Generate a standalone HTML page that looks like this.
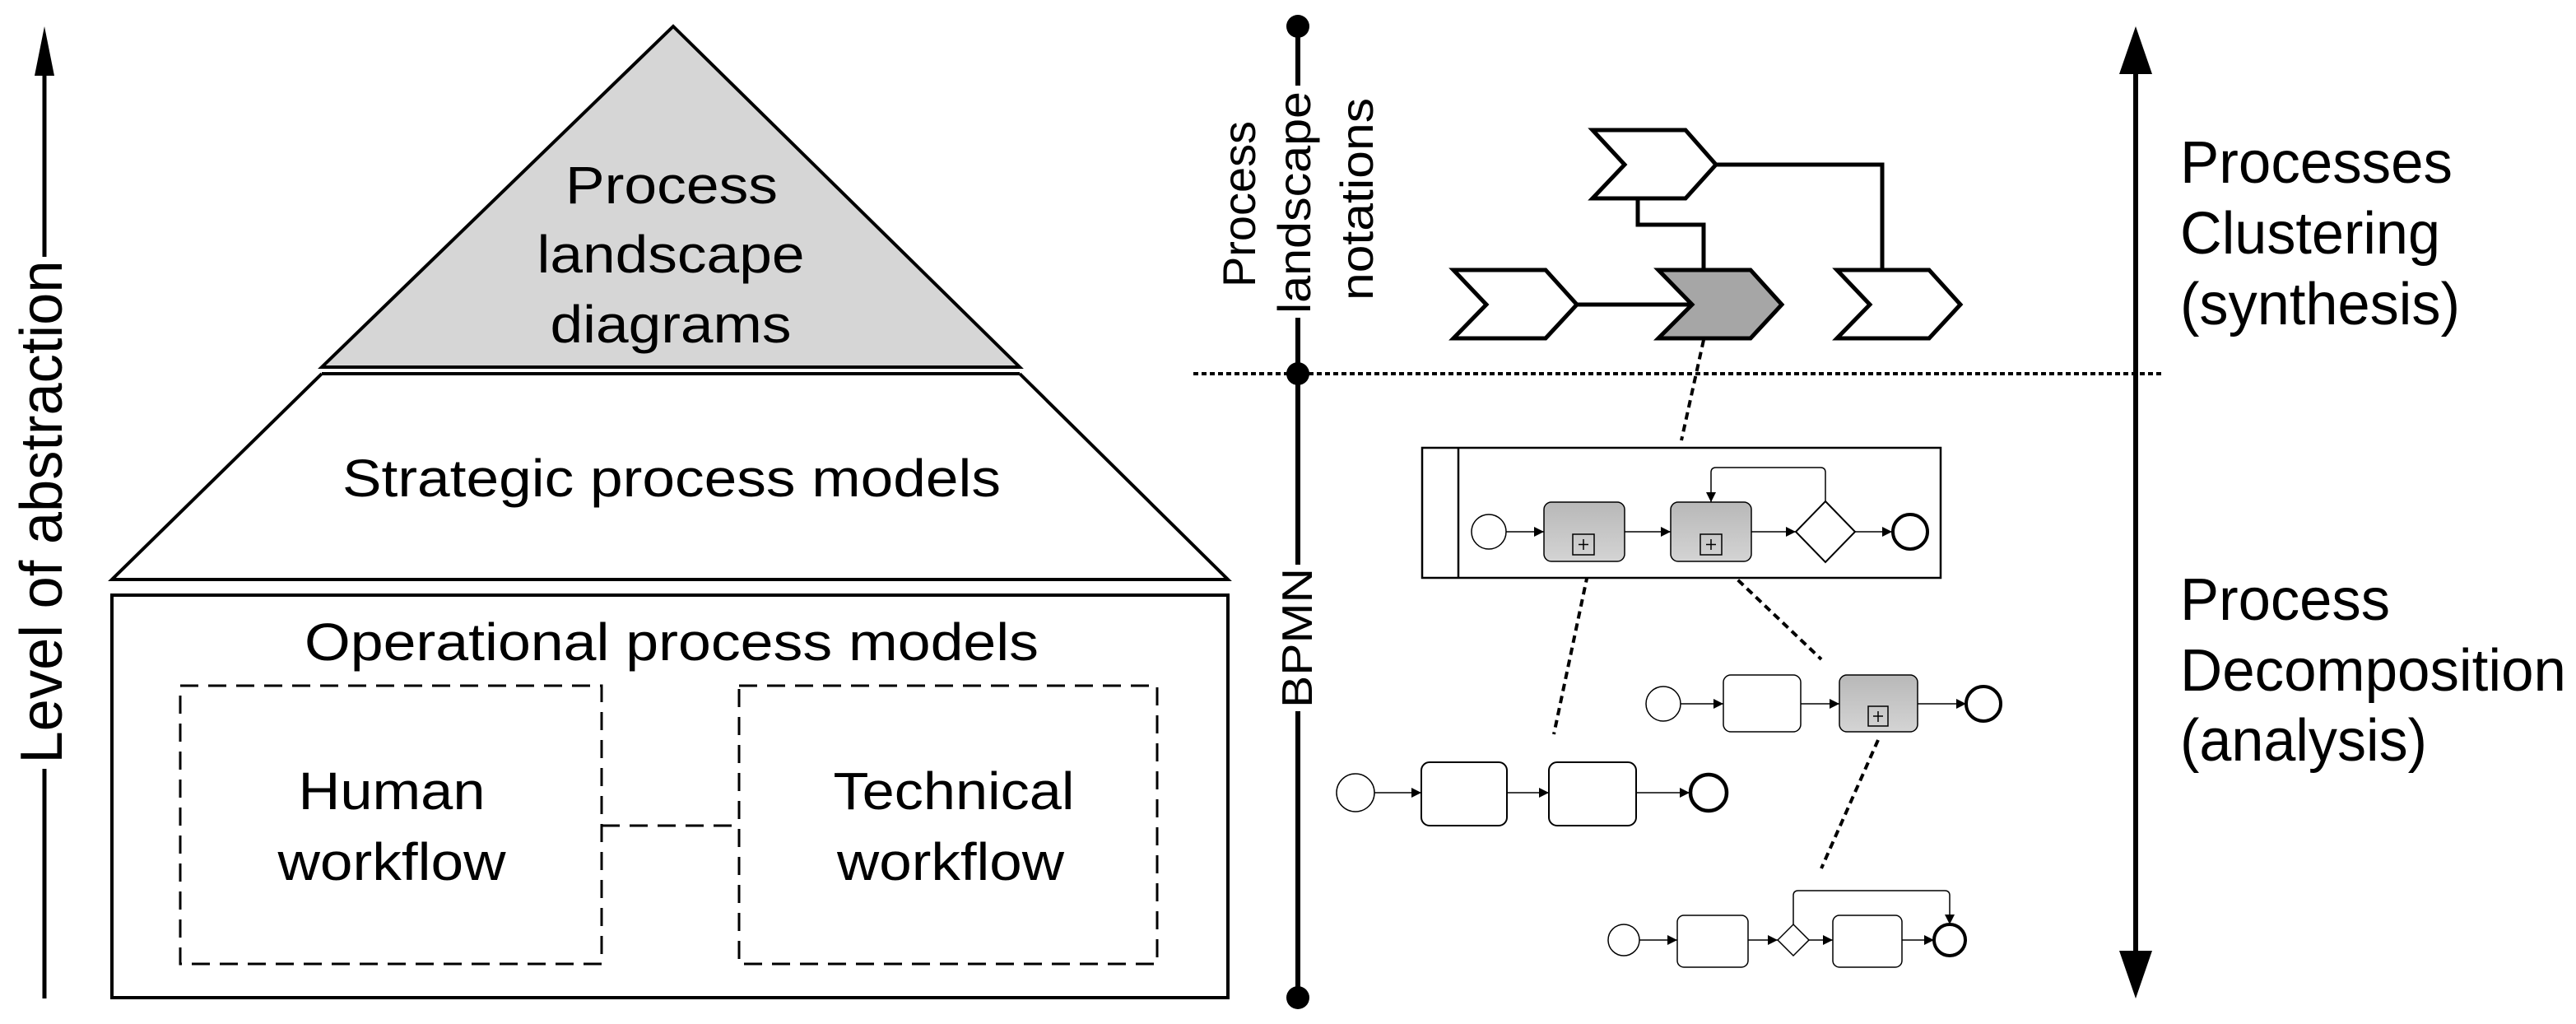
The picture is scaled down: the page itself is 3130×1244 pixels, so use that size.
<!DOCTYPE html>
<html><head><meta charset="utf-8"><style>
html,body{margin:0;padding:0;background:#fff;}
svg{display:block;}
text{font-family:"Liberation Sans",Arial,sans-serif;fill:#000;}
</style></head><body>
<svg width="3130" height="1244" viewBox="0 0 3130 1244" xmlns="http://www.w3.org/2000/svg">
<defs>
<marker id="ah" viewBox="0 0 10 10" refX="10" refY="5" markerWidth="12" markerHeight="12" markerUnits="userSpaceOnUse" orient="auto"><path d="M0,0 L10,5 L0,10 z" fill="#000"/></marker>
<linearGradient id="g" x1="0" y1="0" x2="0" y2="1"><stop offset="0" stop-color="#b8b8b8"/><stop offset="1" stop-color="#d4d4d4"/></linearGradient>
</defs>

<!-- Left arrow -->
<line x1="54" y1="80" x2="54" y2="312" stroke="#000" stroke-width="5"/>
<line x1="54" y1="934" x2="54" y2="1213" stroke="#000" stroke-width="5"/>
<path d="M54,32 L42,92 L66,92 z" fill="#000"/>
<text transform="translate(75,622) rotate(-90)" text-anchor="middle" font-size="72" textLength="611" lengthAdjust="spacingAndGlyphs">Level of abstraction</text>

<!-- Pyramid -->
<path d="M818,32 L1239,446 L391,446 z" fill="#d6d6d6" stroke="#000" stroke-width="4" stroke-linejoin="miter"/>
<line x1="391" y1="454" x2="1239" y2="454" stroke="#000" stroke-width="4"/>
<path d="M391,454 L136,704 L1492,704 L1239,454" fill="none" stroke="#000" stroke-width="4"/>
<rect x="136" y="723" width="1356" height="489" fill="none" stroke="#000" stroke-width="4"/>
<rect x="219" y="833" width="512" height="338" fill="none" stroke="#000" stroke-width="3" stroke-dasharray="22 12"/>
<rect x="898" y="833" width="508" height="338" fill="none" stroke="#000" stroke-width="3" stroke-dasharray="22 12"/>
<line x1="731" y1="1003" x2="898" y2="1003" stroke="#000" stroke-width="3" stroke-dasharray="22 12"/>

<text x="816" y="247" text-anchor="middle" font-size="64" textLength="258" lengthAdjust="spacingAndGlyphs">Process</text>
<text x="815" y="331" text-anchor="middle" font-size="64" textLength="325" lengthAdjust="spacingAndGlyphs">landscape</text>
<text x="815" y="416" text-anchor="middle" font-size="64" textLength="293" lengthAdjust="spacingAndGlyphs">diagrams</text>
<text x="816" y="603" text-anchor="middle" font-size="64" textLength="800" lengthAdjust="spacingAndGlyphs">Strategic process models</text>
<text x="816" y="802" text-anchor="middle" font-size="64" textLength="892" lengthAdjust="spacingAndGlyphs">Operational process models</text>
<text x="476" y="983" text-anchor="middle" font-size="64" textLength="227" lengthAdjust="spacingAndGlyphs">Human</text>
<text x="476" y="1069" text-anchor="middle" font-size="64" textLength="277" lengthAdjust="spacingAndGlyphs">workflow</text>
<text x="1159" y="983" text-anchor="middle" font-size="64" textLength="293" lengthAdjust="spacingAndGlyphs">Technical</text>
<text x="1155" y="1069" text-anchor="middle" font-size="64" textLength="276" lengthAdjust="spacingAndGlyphs">workflow</text>

<!-- Middle axis -->
<line x1="1577" y1="32" x2="1577" y2="104" stroke="#000" stroke-width="6"/>
<line x1="1577" y1="386" x2="1577" y2="686" stroke="#000" stroke-width="6"/>
<line x1="1577" y1="864" x2="1577" y2="1212" stroke="#000" stroke-width="6"/>
<circle cx="1577" cy="32" r="14" fill="#000"/>
<circle cx="1577" cy="454" r="14" fill="#000"/>
<circle cx="1577" cy="1212" r="14" fill="#000"/>
<text transform="translate(1525,248) rotate(-90)" text-anchor="middle" font-size="56" textLength="202" lengthAdjust="spacingAndGlyphs">Process</text>
<text transform="translate(1592,246) rotate(-90)" text-anchor="middle" font-size="56" textLength="270" lengthAdjust="spacingAndGlyphs">landscape</text>
<text transform="translate(1668,242) rotate(-90)" text-anchor="middle" font-size="56" textLength="246" lengthAdjust="spacingAndGlyphs">notations</text>
<text transform="translate(1594,775) rotate(-90)" text-anchor="middle" font-size="52" textLength="170" lengthAdjust="spacingAndGlyphs">BPMN</text>

<!-- dotted separator -->
<line x1="1450" y1="454" x2="2626" y2="454" stroke="#000" stroke-width="4" stroke-dasharray="6 4"/>

<!-- Right arrow -->
<line x1="2595" y1="80" x2="2595" y2="1165" stroke="#000" stroke-width="6"/>
<path d="M2595,32 L2575,90 L2615,90 z" fill="#000"/>
<path d="M2595,1213 L2575,1155 L2615,1155 z" fill="#000"/>
<g font-size="72">
<text x="2649" y="222" textLength="331" lengthAdjust="spacingAndGlyphs">Processes</text>
<text x="2649" y="308" textLength="316" lengthAdjust="spacingAndGlyphs">Clustering</text>
<text x="2649" y="394" textLength="340" lengthAdjust="spacingAndGlyphs">(synthesis)</text>
<text x="2649" y="753" textLength="255" lengthAdjust="spacingAndGlyphs">Process</text>
<text x="2649" y="839" textLength="469" lengthAdjust="spacingAndGlyphs">Decomposition</text>
<text x="2649" y="924" textLength="300" lengthAdjust="spacingAndGlyphs">(analysis)</text>
</g>

<!-- Chevrons -->
<g stroke="#000" stroke-width="5" stroke-linejoin="miter">
<path d="M2085,200 L2287,200 L2287,328" fill="none"/>
<path d="M1990,241 L1990,273 L2070,273 L2070,328" fill="none"/>
<line x1="1916" y1="370" x2="2056" y2="370"/>
<path d="M1935,158 L2048,158 L2085,200 L2048,241 L1935,241 L1974,200 z" fill="#fff"/>
<path d="M1766,328 L1878,328 L1916,370 L1878,411 L1766,411 L1806,370 z" fill="#fff"/>
<path d="M2015,328 L2127,328 L2165,370 L2127,411 L2015,411 L2056,370 z" fill="#a6a6a6"/>
<path d="M2232,328 L2344,328 L2382,370 L2344,411 L2232,411 L2272,370 z" fill="#fff"/>
</g>
<g stroke="#000" stroke-width="4" stroke-dasharray="9 6" fill="none">
<line x1="2070" y1="413" x2="2043" y2="535"/>
<line x1="1932" y1="684" x2="1888" y2="892"/>
<line x1="2090" y1="684" x2="2213" y2="801"/>
<line x1="2282" y1="899" x2="2213" y2="1055"/>
</g>

<!-- Pool -->
<rect x="1728" y="544" width="630" height="158" fill="#fff" stroke="#000" stroke-width="2.5"/>
<line x1="1772" y1="544" x2="1772" y2="702" stroke="#000" stroke-width="2.5"/>
<g stroke="#000" fill="none" stroke-width="1.5">
<circle cx="1809" cy="646" r="21" fill="#fff"/>
<line x1="1830" y1="646" x2="1876" y2="646" marker-end="url(#ah)"/>
<rect x="1876" y="610" width="98" height="72" rx="9" fill="url(#g)"/>
<rect x="1911" y="649" width="26" height="25" fill="none"/>
<path d="M1924,655 v13 M1918,661.5 h12"/>
<line x1="1974" y1="646" x2="2030" y2="646" marker-end="url(#ah)"/>
<rect x="2030" y="610" width="98" height="72" rx="9" fill="url(#g)"/>
<rect x="2066" y="649" width="26" height="25" fill="none"/>
<path d="M2079,655 v13 M2073,661.5 h12"/>
<line x1="2128" y1="646" x2="2182" y2="646" marker-end="url(#ah)"/>
<path d="M2218,609 L2254,646 L2218,683 L2182,646 z" fill="#fff" stroke-width="2"/>
<path d="M2218,609 L2218,574 Q2218,568 2212,568 L2085,568 Q2079,568 2079,574 L2079,610" marker-end="url(#ah)"/>
<line x1="2254" y1="646" x2="2299" y2="646" marker-end="url(#ah)"/>
<circle cx="2321" cy="646" r="21" fill="#fff" stroke-width="4"/>
</g>

<!-- Row 2 -->
<g stroke="#000" fill="none" stroke-width="1.5">
<circle cx="2021" cy="855" r="21" fill="#fff"/>
<line x1="2042" y1="855" x2="2094" y2="855" marker-end="url(#ah)"/>
<rect x="2094" y="820" width="94" height="69" rx="9" fill="#fff"/>
<line x1="2188" y1="855" x2="2235" y2="855" marker-end="url(#ah)"/>
<rect x="2235" y="820" width="95" height="69" rx="9" fill="url(#g)"/>
<rect x="2270" y="858" width="24" height="24"/>
<path d="M2282,864 v13 M2276,870 h12"/>
<line x1="2330" y1="855" x2="2389" y2="855" marker-end="url(#ah)"/>
<circle cx="2410" cy="855" r="21" fill="#fff" stroke-width="4"/>
</g>

<!-- Row 1 -->
<g stroke="#000" fill="none" stroke-width="1.5">
<circle cx="1647" cy="963" r="23" fill="#fff"/>
<line x1="1670" y1="963" x2="1727" y2="963" marker-end="url(#ah)"/>
<rect x="1727" y="926" width="104" height="77" rx="10" fill="#fff" stroke-width="2"/>
<line x1="1831" y1="963" x2="1882" y2="963" marker-end="url(#ah)"/>
<rect x="1882" y="926" width="106" height="77" rx="10" fill="#fff" stroke-width="2"/>
<line x1="1988" y1="963" x2="2053" y2="963" marker-end="url(#ah)"/>
<circle cx="2076" cy="963" r="22" fill="#fff" stroke-width="4.5"/>
</g>

<!-- Row 3 -->
<g stroke="#000" fill="none" stroke-width="1.5">
<circle cx="1973" cy="1142" r="19" fill="#fff"/>
<line x1="1992" y1="1142" x2="2038" y2="1142" marker-end="url(#ah)"/>
<rect x="2038" y="1112" width="86" height="63" rx="8" fill="#fff"/>
<line x1="2124" y1="1142" x2="2160" y2="1142" marker-end="url(#ah)"/>
<path d="M2179,1123 L2198,1142 L2179,1161 L2160,1142 z" fill="#fff"/>
<line x1="2198" y1="1142" x2="2227" y2="1142" marker-end="url(#ah)"/>
<rect x="2227" y="1112" width="84" height="63" rx="8" fill="#fff"/>
<line x1="2311" y1="1142" x2="2350" y2="1142" marker-end="url(#ah)"/>
<path d="M2179,1123 L2179,1088 Q2179,1082 2185,1082 L2363,1082 Q2369,1082 2369,1088 L2369,1123" marker-end="url(#ah)"/>
<circle cx="2369" cy="1142" r="19" fill="#fff" stroke-width="4"/>
</g>
</svg>
</body></html>
